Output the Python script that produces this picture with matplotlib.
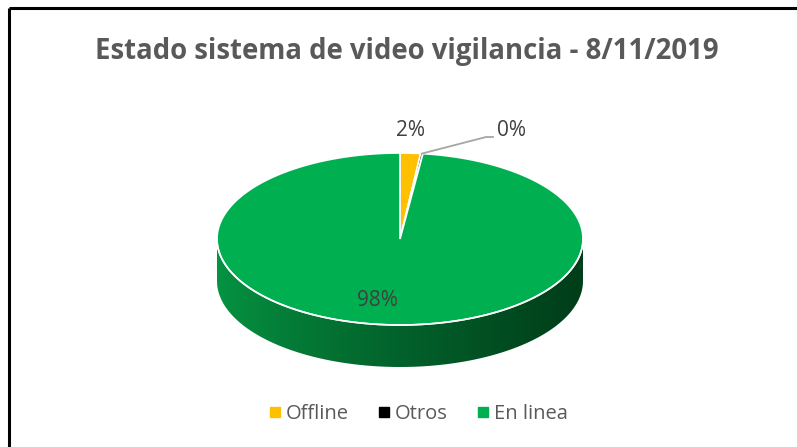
"""3D-style pie: estado del sistema de video vigilancia."""

import matplotlib.pyplot as plt
import numpy as np
from matplotlib.lines import Line2D
from matplotlib.patches import Polygon

categories = ["Offline", "Otros", "En linea"]
shares = [1.8, 0.2, 98.0]
colors = ["#ffc000", "#000000", "#00b050"]
title = "Estado sistema de video vigilancia - 8/11/2019"

W, H = 797, 447
CX, CY = 400, 239      # centre of the top face (pixels)
RX, RY = 183, 86       # radii of the top face
DEPTH = 42             # thickness of the disc

plt.rcParams["font.family"] = ["Open Sans", "DejaVu Sans"]

fig = plt.figure(figsize=(W / 100, H / 100), dpi=100)
ax = fig.add_axes([0, 0, 1, 1])
ax.axis("off")


def rim(angles, dy=0.0):
    # angles in degrees, clockwise from 12 o'clock
    a = np.radians(angles)
    return np.column_stack([CX + RX * np.sin(a), CY - RY * np.cos(a) + dy])


# front side of the disc, shaded left to right
front = np.linspace(90, 270, 200)
side = np.vstack([rim(front), rim(front[::-1], DEPTH)])
side_patch = Polygon(side, closed=True, facecolor="none", edgecolor="none")
ax.add_patch(side_patch)
grad = np.linspace(0, 1, 256)
c0 = np.array([0.02, 0.58, 0.26])
c1 = np.array([0.0, 0.24, 0.10])
ramp = c0 + (c1 - c0) * (grad ** 0.8)[:, None]
img = ax.imshow(ramp[None, :, :], extent=(CX - RX, CX + RX, CY + RY + DEPTH, CY - RY),
                aspect="auto", zorder=1)
img.set_clip_path(side_patch)
ax.set_xlim(0, W)
ax.set_ylim(H, 0)

# top face slices
total = sum(shares)
start = 0.0
mids = []
for value, color in zip(shares, colors):
    sweep = 360.0 * value / total
    arc = np.linspace(start, start + sweep, max(int(sweep * 2), 3))
    pts = np.vstack([[CX, CY], rim(arc)])
    ax.add_patch(Polygon(pts, closed=True, facecolor=color, edgecolor="white",
                         linewidth=1.2, zorder=2))
    mids.append(start + sweep / 2)
    start += sweep
ax.plot(*rim(front).T, color="white", lw=1.2, zorder=3)

# data labels
pct = [f"{round(100 * v / total):.0f}%" for v in shares]
lab_style = dict(fontsize=15, color="#404040", ha="center", va="center", zorder=4)
ax.text(411, 131, pct[0], **lab_style)
ax.text(512, 131, pct[1], **lab_style)
ax.text(377, 300, pct[2], **lab_style)
p = rim([mids[1]])[0]
ax.plot([p[0], 486, 493], [p[1], 137, 137], color="#a6a6a6", lw=1.3, zorder=3)

ax.text(407, 51, title, fontsize=19.8, fontweight="bold", color="#595959",
        ha="center", va="center")

# frame (only the top and left borders fall inside the crop)
ax.plot([9, W], [8, 8], color="black", lw=2.2, solid_capstyle="butt")
ax.plot([9, 9], [8, H], color="black", lw=2.2, solid_capstyle="butt")

handles = [Line2D([], [], marker="s", linestyle="none", markersize=7.5,
                  markerfacecolor=c, markeredgecolor=c) for c in colors]
fig.legend(handles, categories, loc="center", bbox_to_anchor=(417 / W, 1 - 414 / H),
           ncol=3, frameon=False, fontsize=14.5, handletextpad=0.1,
           columnspacing=1.3, handlelength=0.9, labelcolor="#595959")

fig.savefig("out.png", dpi=100)
